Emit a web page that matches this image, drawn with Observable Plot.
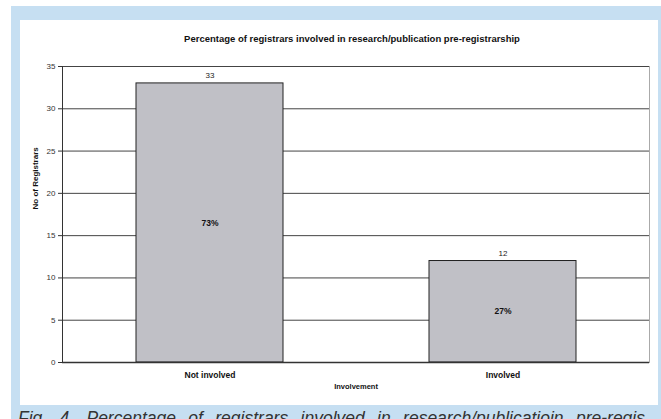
<!DOCTYPE html>
<html><head><meta charset="utf-8">
<script src="https://cdn.jsdelivr.net/npm/d3@7"></script>
<script src="https://cdn.jsdelivr.net/npm/@observablehq/plot@0.6"></script>
<style>
body{margin:0;background:#fff;width:661px;height:419px;overflow:hidden;position:relative;font-family:"Liberation Sans",Arial,sans-serif}
#frame{position:absolute;left:11px;top:6px;width:650px;height:413px;background:#c6dff2}
#panel{position:absolute;left:20px;top:20px;width:638px;height:385px;background:#fff}
#panel svg{display:block}
#caption{position:absolute;left:18px;top:409px;width:627px;font-style:italic;font-size:17.5px;line-height:18px;color:#333;white-space:nowrap;text-align:justify;text-align-last:justify}
</style></head>
<body>
<div id="frame"></div>
<div id="panel"></div>
<div id="caption">Fig. 4. Percentage of registrars involved in research/publicatioin pre-regis</div>
<script>
const categories = ["Not involved", "Involved"];
const counts = [33, 12];
const percents = ["73%", "27%"];
const yTicks = [0, 5, 10, 15, 20, 25, 30, 35];
const chartTitle = "Percentage of registrars involved in research/publication pre-registrarship";
const yLabel = "No of Registrars";
const xLabel = "Involvement";

const data = categories.map((c, i) => ({c, n: counts[i], p: percents[i]}));

const chart = Plot.plot({
  width: 638, height: 385,
  marginLeft: 42, marginRight: 9, marginTop: 46, marginBottom: 43,
  style: {fontFamily: "Liberation Sans, Arial, sans-serif", fontSize: "8px", color: "#222", background: "transparent"},
  x: {domain: categories, paddingInner: 0.5, paddingOuter: 0.25, axis: null},
  y: {domain: [0, 35], label: null},
  marks: [
    Plot.gridY(yTicks.filter(t => t > 0), {stroke: "#444", strokeOpacity: 1}),
    Plot.frame({anchor: "right", stroke: "#aaa"}),
    Plot.barY(data, {x: "c", y: "n", fill: "#c0c0c6", stroke: "#222", strokeWidth: 1}),
    Plot.ruleY([0], {stroke: "#333", strokeWidth: 1.5}),
    Plot.frame({anchor: "left", stroke: "#333"}),
    Plot.axisY(yTicks, {tickSize: 4, tickPadding: 3, fontSize: 8, stroke: "#333", fill: "#333", label: null}),
    Plot.text(data, {x: "c", y: "n", text: d => String(d.n), dy: -8, fontSize: 8, fill: "#222"}),
    Plot.text(data, {x: "c", y: d => d.n / 2, text: "p", fontWeight: "bold", fontSize: 8.5, fill: "#111"}),
    Plot.text(data, {x: "c", frameAnchor: "bottom", text: "c", dy: 15, fontWeight: "bold", fontSize: 8.5, fill: "#111"}),
    Plot.text([chartTitle], {frameAnchor: "top", dy: -31, dx: -4, fontWeight: "bold", fontSize: 9.5, fill: "#111"}),
    Plot.text([yLabel], {frameAnchor: "left", dx: -27, dy: -5, rotate: -90, fontWeight: "bold", fontSize: 8, fill: "#111"}),
    Plot.text([xLabel], {frameAnchor: "bottom", dy: 26, fontWeight: "bold", fontSize: 7.5, fill: "#111"})
  ]
});
document.getElementById("panel").appendChild(chart);
</script>
</body></html>
